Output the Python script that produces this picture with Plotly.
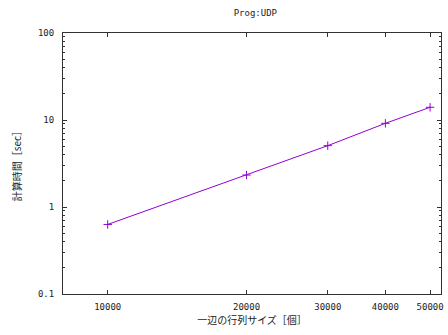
import math
import plotly.graph_objects as go

sizes = [10000, 20000, 30000, 40000, 50000]
times = [0.63, 2.33, 5.07, 9.16, 14.0]
x_ticks = [10000, 20000, 30000, 40000, 50000]
x_tick_labels = ["10000", "20000", "30000", "40000", "50000"]
y_ticks = [0.1, 1, 10, 100]
y_tick_labels = ["0.1", "1", "10", "100"]
y_minor = [m * d for d in (0.1, 1, 10) for m in range(2, 10)]

mono = "DejaVu Sans Mono, Noto Sans CJK JP"
cjk = "Noto Sans CJK JP"

fig = go.Figure()
fig.add_trace(go.Scatter(
    x=sizes, y=times, mode="lines+markers",
    line=dict(color="#9400D3", width=1),
    marker=dict(symbol="cross-thin", size=6, line=dict(color="#9400D3", width=1)),
    showlegend=False,
))

fig.update_layout(
    width=448, height=335,
    margin=dict(l=63, r=4, t=33, b=41),
    paper_bgcolor="white", plot_bgcolor="white",
    title=dict(text="Prog:UDP", x=0.57, xanchor="center", y=0.962, yanchor="middle",
               font=dict(family=mono, size=9, color="#222")),
    xaxis=dict(
        type="log", range=[math.log10(8000), math.log10(52800)],
        tickvals=x_ticks, ticktext=x_tick_labels,
        ticks="inside", ticklen=4, tickcolor="#333", mirror="allticks",
        showline=True, linecolor="#333", linewidth=1, showgrid=False, zeroline=False,
        ticklabelstandoff=4,
        tickfont=dict(family=mono, size=9, color="#222"),
        title=dict(text="一辺の行列サイズ［個］", font=dict(family=cjk, size=10, color="#222"), standoff=4),
    ),
    yaxis=dict(
        type="log", range=[-1, 2],
        tickvals=y_ticks, ticktext=y_tick_labels,
        ticks="inside", ticklen=4, tickcolor="#333", mirror="allticks",
        showline=True, linecolor="#333", linewidth=1, showgrid=False, zeroline=False,
        minor=dict(tickmode="array", tickvals=y_minor, ticks="inside", ticklen=2,
                   tickcolor="#333", showgrid=False),
        ticklabelstandoff=6,
        tickfont=dict(family=mono, size=9, color="#222"),
        title=dict(text="計算時間［sec］", font=dict(family=cjk, size=10, color="#222"), standoff=14),
    ),
)

fig.write_html("out.html")
